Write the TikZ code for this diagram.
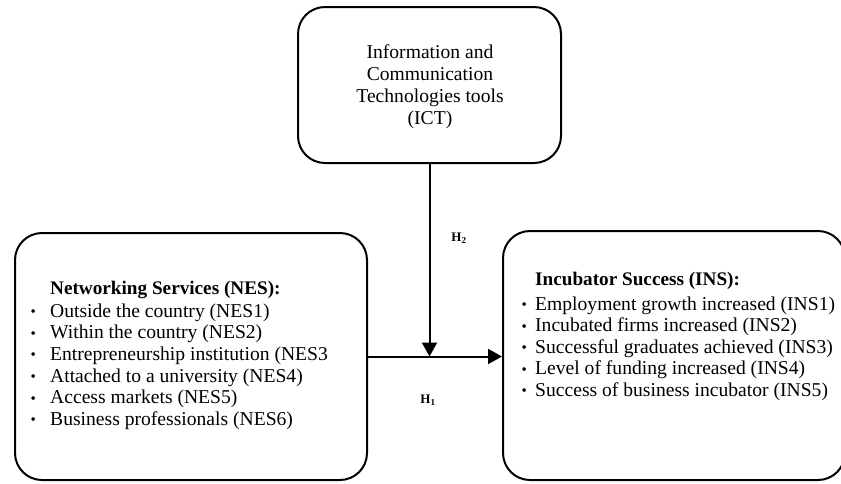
\documentclass[tikz,border=0pt]{standalone}
\usepackage{fontspec}
\setmainfont{Liberation Serif}
\usetikzlibrary{arrows.meta}
\tikzset{
  box/.style={draw, line width=2pt, rounded corners=27pt, inner sep=0pt},
  itemline/.style={anchor=base west, inner sep=0pt, font=\fontsize{19.6}{21.7}\selectfont},
  hdr/.style={anchor=base west, inner sep=0pt, font=\fontsize{19.2}{21.7}\selectfont\bfseries},
  hlabel/.style={inner sep=0pt, font=\fontsize{13}{15}\selectfont\bfseries},
  conn/.style={line width=2pt, -{Triangle[length=14pt,width=15pt]}},
}
\newcommand{\bul}[1]{\makebox[#1][l]{\hspace*{0.5pt}\raisebox{0.5pt}{\fontsize{15}{15}\selectfont\textbullet}}}
\begin{document}
\begin{tikzpicture}[x=1pt,y=-1pt]
\useasboundingbox (0,0) rectangle (841,483);
% boxes
\node[box, minimum width=263pt, minimum height=156pt] (ict) at (429.5,85) {};
\node[box, minimum width=352pt, minimum height=247pt] (nes) at (191,356.5) {};
\node[box, minimum width=342pt, minimum height=249pt] (ins) at (674,355.5) {};
% ICT text
\node[inner sep=0pt, align=center, font=\fontsize{19.6}{22}\selectfont] (icttext) at (430,87)
  {Information and\\Communication\\Technologies tools\\(ICT)};
% NES text
\node[hdr] (neshdr) at (50,294) {Networking Services (NES):};
\node[itemline] (nes1) at (30,317) {\bul{20pt}Outside the country (NES1)};
\node[itemline] (nes2) at (30,338.5) {\bul{20pt}Within the country (NES2)};
\node[itemline] (nes3) at (30,360) {\bul{20pt}Entrepreneurship institution (NES3};
\node[itemline] (nes4) at (30,382) {\bul{20pt}Attached to a university (NES4)};
\node[itemline] (nes5) at (30,403.5) {\bul{20pt}Access markets (NES5)};
\node[itemline] (nes6) at (30,425) {\bul{20pt}Business professionals (NES6)};
% INS text
\node[hdr] (inshdr) at (535,285) {Incubator Success (INS):};
\node[itemline] (ins1) at (521,310) {\bul{14pt}Employment growth increased (INS1)};
\node[itemline] (ins2) at (521,331.5) {\bul{14pt}Incubated firms increased (INS2)};
\node[itemline] (ins3) at (521,353) {\bul{14pt}Successful graduates achieved (INS3)};
\node[itemline] (ins4) at (521,374.5) {\bul{14pt}Level of funding increased (INS4)};
\node[itemline] (ins5) at (521,396) {\bul{14pt}Success of business incubator (INS5)};
% connectors
\coordinate (meet) at (ict.south |- nes.east);
\draw[conn] (nes.east) -- (nes.east -| ins.west);
\draw[conn] (ict.south) -- (meet);
% labels
\node[hlabel] (h2) at (459,238) {H\textsubscript{2}};
\node[hlabel] (h1) at (428,400) {H\textsubscript{1}};
\end{tikzpicture}
\end{document}
